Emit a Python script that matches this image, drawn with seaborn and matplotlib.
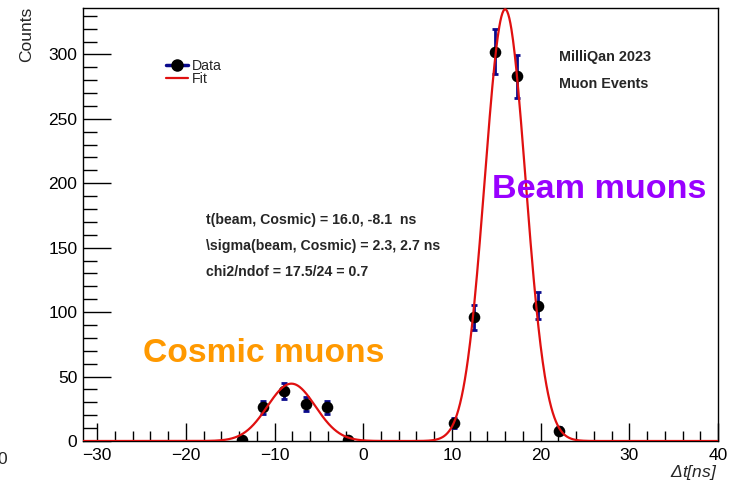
import numpy as np
import pandas as pd
import matplotlib
matplotlib.use("Agg")
import matplotlib.pyplot as plt
from matplotlib.lines import Line2D
from matplotlib.ticker import MultipleLocator
import seaborn as sns

# Histogram bin centres (ns) and counts
cosmic_t = [-13.7, -11.3, -8.9, -6.5, -4.1, -1.7]
cosmic_counts = [1, 26, 39, 29, 26, 1]
beam_t = [10.2, 12.5, 14.9, 17.3, 19.7, 22.1]
beam_counts = [14, 96, 302, 283, 105, 8]

# Double-Gaussian fit parameters (beam, cosmic)
fit_mean = [16.0, -8.1]
fit_sigma = [2.3, 2.7]
fit_amp = [335.0, 44.5]

x_range = (-31.6, 40.0)
y_range = (0, 336)

stats_lines = [
    "t(beam, Cosmic) = 16.0, -8.1  ns",
    "\\sigma(beam, Cosmic) = 2.3, 2.7 ns",
    "chi2/ndof = 17.5/24 = 0.7",
]

sns.set_theme(style="white")
plt.rcParams["font.family"] = ["Liberation Sans", "DejaVu Sans"]
plt.rcParams["mathtext.default"] = "regular"

W, H = 733, 482
fig = plt.figure(figsize=(W / 100, H / 100), dpi=100)
ax = fig.add_axes([83 / W, 1 - 441 / H, (718 - 83) / W, (441 - 8) / H])

data = pd.DataFrame({
    "t": cosmic_t + beam_t,
    "counts": cosmic_counts + beam_counts,
})
data["err"] = np.sqrt(data["counts"])

# Fit curve
xs = np.linspace(x_range[0], x_range[1], 1200)
ys = np.zeros_like(xs)
for a, m, s in zip(fit_amp, fit_mean, fit_sigma):
    ys += a * np.exp(-0.5 * ((xs - m) / s) ** 2)
fit_df = pd.DataFrame({"t": xs, "f": ys})

ax.errorbar(data["t"], data["counts"], yerr=data["err"], fmt="none",
            ecolor="#0a0a8c", elinewidth=2.0, capsize=2.5, capthick=2.0, zorder=3)
sns.scatterplot(data=data, x="t", y="counts", ax=ax, color="black", s=70,
                edgecolor="black", linewidth=0, zorder=4, legend=False)
sns.lineplot(data=fit_df, x="t", y="f", ax=ax, color="#e01010", linewidth=1.6,
             zorder=5, legend=False, clip_on=True)

ax.set_xlim(*x_range)
ax.set_ylim(*y_range)
ax.set_xlabel("")
ax.set_ylabel("")

# Frame and ticks
for sp in ax.spines.values():
    sp.set_color("black")
    sp.set_linewidth(1.0)
ax.xaxis.set_major_locator(MultipleLocator(10))
ax.xaxis.set_minor_locator(MultipleLocator(2))
ax.yaxis.set_major_locator(MultipleLocator(50))
ax.yaxis.set_minor_locator(MultipleLocator(10))
ax.tick_params(axis="x", which="major", direction="in", length=13, width=1,
               labelsize=12.5, pad=5, colors="black", bottom=True, top=False)
ax.tick_params(axis="x", which="minor", direction="in", length=7, width=1,
               bottom=True, top=False, colors="black")
ax.tick_params(axis="y", which="major", direction="in", length=20, width=1,
               labelsize=12.5, pad=4, colors="black", left=True, right=False)
ax.tick_params(axis="y", which="minor", direction="in", length=10, width=1,
               left=True, right=False, colors="black")
ax.set_xticks([-30, -20, -10, 0, 10, 20, 30, 40])
ax.set_xticklabels(["\u221230", "\u221220", "\u221210", "0", "10", "20", "30", "40"])

# Axis titles
fig.text(27 / W, 1 - 7 / H, "Counts", rotation=90, ha="center", va="top",
         fontsize=12.5)
fig.text(717 / W, 1 - 473 / H, r"$\Delta t [ns]$", ha="right", va="center",
         fontsize=12.5, style="italic")
fig.text(-3 / W, 1 - 460 / H, "0", ha="left", va="center", fontsize=12.5)

# Legend
handles = [
    Line2D([0], [0], color="#0a0a8c", lw=2.5, marker="o", markersize=8,
           markerfacecolor="black", markeredgecolor="black"),
    Line2D([0], [0], color="#e01010", lw=1.6),
]
ax.legend(handles, ["Data", "Fit"], loc="upper left", frameon=False,
          bbox_to_anchor=(166 / W, 1 - 59 / H), bbox_transform=fig.transFigure,
          fontsize=10.2, handlelength=1.55, handletextpad=0.3, labelspacing=-0.08,
          borderpad=0, borderaxespad=0)

# Annotations
fig.text(559 / W, 1 - 57 / H, "MilliQan 2023", fontsize=10.4, fontweight="bold",
         ha="left", va="center")
fig.text(559 / W, 1 - 84 / H, "Muon Events", fontsize=10.4, fontweight="bold",
         ha="left", va="center")
for line, yy in zip(stats_lines, [220, 246, 272]):
    fig.text(206 / W, 1 - yy / H, line, fontsize=10.2, fontweight="bold",
             ha="left", va="center")

fig.text(143 / W, 1 - 353 / H, "Cosmic muons", fontsize=24.2, fontweight="bold",
         color="#ff9900", ha="left", va="center")
fig.text(492 / W, 1 - 190 / H, "Beam muons", fontsize=24.6, fontweight="bold",
         color="#9900ff", ha="left", va="center")

fig.savefig("out.png", dpi=100)
